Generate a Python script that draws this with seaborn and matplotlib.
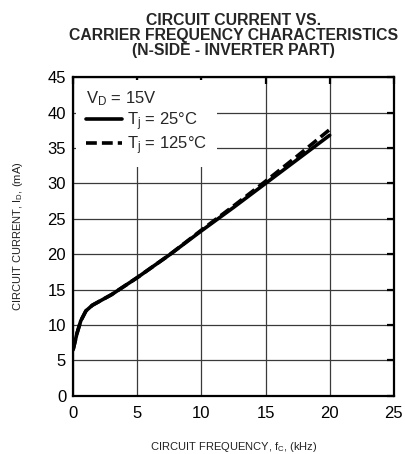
import numpy as np
import pandas as pd
import matplotlib
matplotlib.use('Agg')
import matplotlib.pyplot as plt
import seaborn as sns

# ============================================================
# DATA
# ============================================================
freq_khz   = [0, 0.3, 0.6, 1.0, 1.5, 2.0, 3.0, 5.0, 7.5, 10.0, 12.5, 15.0, 17.5, 20.0]
id_25c     = [6.5, 8.8, 10.6, 12.0, 12.8, 13.3, 14.3, 16.7, 19.9, 23.3, 26.6, 30.0, 33.4, 36.8]
id_125c    = [6.5, 8.8, 10.6, 12.0, 12.8, 13.3, 14.3, 16.7, 19.9, 23.4, 26.8, 30.3, 33.9, 37.6]
series     = ["T$_\\mathregular{j}$ = 25°C", "T$_\\mathregular{j}$ = 125°C"]

df = pd.DataFrame({
    "f":  freq_khz * 2,
    "id": id_25c + id_125c,
    "s":  [series[0]] * len(freq_khz) + [series[1]] * len(freq_khz),
})

# ============================================================
# PLOT
# ============================================================
sns.set_theme(style="white")
plt.rcParams['font.family'] = ['Liberation Sans', 'DejaVu Sans']
plt.rcParams['mathtext.fontset'] = 'custom'
plt.rcParams['mathtext.rm'] = 'Liberation Sans'
plt.rcParams['mathtext.it'] = 'Liberation Sans'

fig = plt.figure(figsize=(4.06, 4.54), dpi=100)
ax = fig.add_axes([0.180, 0.128, 0.790, 0.702])

sns.lineplot(data=df, x="f", y="id", hue="s", style="s",
             palette=["black", "black"], dashes=[(None, None), (3, 1.4)],
             linewidth=2.6, legend=False, ax=ax)

ax.set_xlim(0, 25)
ax.set_ylim(0, 45)
ax.set_xticks(np.arange(0, 26, 5))
ax.set_yticks(np.arange(0, 46, 5))
ax.grid(True, color="#3a3a3a", linewidth=0.9)
ax.tick_params(direction="in", length=5, width=1.6, labelsize=12,
               top=True, right=True, colors="black")
ax.tick_params(axis="x", pad=7)
ax.tick_params(axis="y", pad=5)
for sp in ax.spines.values():
    sp.set_color("black")
    sp.set_linewidth(1.6)

ax.set_xlabel("CIRCUIT FREQUENCY, f$_\\mathregular{C}$, (kHz)", fontsize=8, color="#222222", labelpad=14)
ax.set_ylabel("CIRCUIT CURRENT, I$_\\mathregular{D}$, (mA)", fontsize=8, color="#222222", labelpad=16)

ax.set_title("CIRCUIT CURRENT VS.\nCARRIER FREQUENCY CHARACTERISTICS\n(N-SIDE - INVERTER PART)",
             fontsize=11.3, fontweight="bold", linespacing=0.98, pad=16)

h1, = ax.plot([], [], color="black", lw=2.6)
h2, = ax.plot([], [], color="black", lw=2.6, dashes=(3, 1.4))
leg = ax.legend([h1, h2], series, title="V$_\\mathregular{D}$ = 15V", loc="upper left",
                fontsize=12, title_fontsize=12, alignment="left",
                frameon=True, facecolor="white", edgecolor="none", framealpha=1,
                fancybox=False, handlelength=2.2, handletextpad=0.3,
                labelspacing=0.1, borderaxespad=0.15, borderpad=0.6)
leg.set_zorder(5)

fig.savefig("out.png", dpi=100)
